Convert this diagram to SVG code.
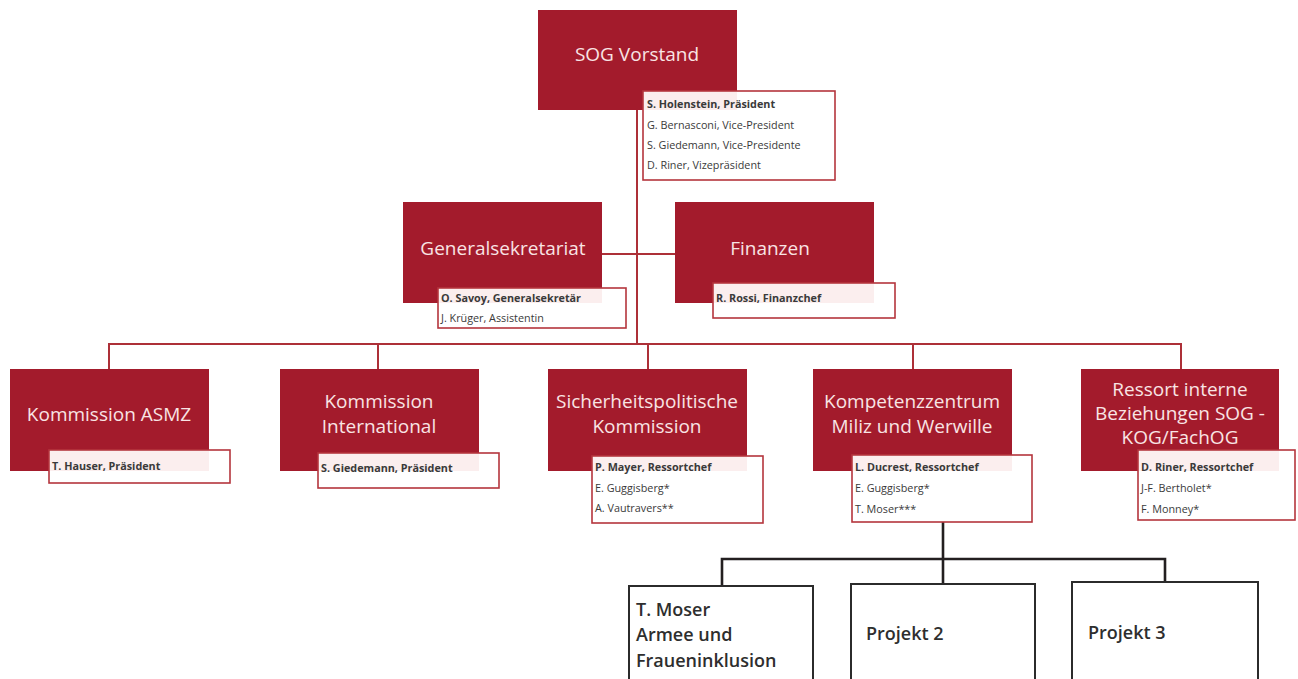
<svg xmlns="http://www.w3.org/2000/svg" width="1298" height="679" viewBox="0 0 1298 679">
<style>
.box{fill:#a31b2c;}
.ttl{font-family:"Open Sans","Noto Sans",sans-serif;font-size:19px;fill:#f9e4e4;text-anchor:middle;}
.info{fill:#fff;stroke:#b5353d;stroke-width:1.6;}
.band{fill:#fbeeee;}
.it{font-family:"Open Sans","Noto Sans",sans-serif;font-size:10.8px;fill:#3a3a3a;}
.b{font-weight:bold;}
.red{stroke:#ad3038;stroke-width:2;fill:none;}
.blk{stroke:#231f20;stroke-width:2.6;fill:none;}
.proj{fill:#fff;stroke:#2b2b2b;stroke-width:2;}
.pt{font-family:"Open Sans","Noto Sans",sans-serif;font-size:18px;font-weight:600;fill:#2e2e2e;}
</style>
<rect width="1298" height="679" fill="#fff"/>
<g id="connectors">
<path class="red" d="M637,110 V344"/>
<path class="red" d="M602,254 H675"/>
<path class="red" d="M109,370 V344 H1181 V370"/>
<path class="red" d="M378,344 V370"/>
<path class="red" d="M648,344 V370"/>
<path class="red" d="M913,344 V370"/>
<path class="blk" d="M943,522 V584"/>
<path class="blk" d="M722,586 V559 H1165 V582"/>
</g>
<g id="sog">
<rect class="box" x="538" y="10" width="199" height="100"/>
<text class="ttl" x="637" y="61">SOG Vorstand</text>
<rect class="info" x="643" y="91" width="192" height="89"/>
<rect class="band" x="644" y="92" width="93" height="18"/>
<text class="it b" x="647" y="108">S. Holenstein, Präsident</text>
<text class="it" x="647" y="129">G. Bernasconi, Vice-President</text>
<text class="it" x="647" y="149">S. Giedemann, Vice-Presidente</text>
<text class="it" x="647" y="169">D. Riner, Vizepräsident</text>
</g>
<g id="generalsekretariat">
<rect class="box" x="403" y="202" width="199" height="101"/>
<text class="ttl" x="503" y="255">Generalsekretariat</text>
<rect class="info" x="438" y="288" width="188" height="40"/>
<rect class="band" x="439" y="289" width="163" height="14"/>
<text class="it b" x="441" y="302">O. Savoy, Generalsekretär</text>
<text class="it" x="441" y="322">J. Krüger, Assistentin</text>
</g>
<g id="finanzen">
<rect class="box" x="675" y="202" width="199" height="101"/>
<text class="ttl" x="770" y="255">Finanzen</text>
<rect class="info" x="713" y="283" width="182" height="35"/>
<rect class="band" x="714" y="284" width="160" height="19"/>
<text class="it b" x="716" y="302">R. Rossi, Finanzchef</text>
</g>
<g id="asmz">
<rect class="box" x="10" y="369" width="199" height="102"/>
<text class="ttl" x="109" y="421">Kommission ASMZ</text>
<rect class="info" x="49" y="450" width="181" height="33"/>
<rect class="band" x="50" y="451" width="159" height="20"/>
<text class="it b" x="52" y="470">T. Hauser, Präsident</text>
</g>
<g id="international">
<rect class="box" x="280" y="369" width="199" height="102"/>
<text class="ttl" x="379" y="408">Kommission</text>
<text class="ttl" x="379" y="433">International</text>
<rect class="info" x="318" y="453" width="181" height="35"/>
<rect class="band" x="319" y="454" width="160" height="17"/>
<text class="it b" x="321" y="472">S. Giedemann, Präsident</text>
</g>
<g id="sicherheitspolitische">
<rect class="box" x="548" y="369" width="199" height="102"/>
<text class="ttl" x="647" y="408">Sicherheitspolitische</text>
<text class="ttl" x="647" y="433">Kommission</text>
<rect class="info" x="592" y="456" width="171" height="67"/>
<rect class="band" x="593" y="457" width="154" height="14"/>
<text class="it b" x="595" y="471">P. Mayer, Ressortchef</text>
<text class="it" x="595" y="492">E. Guggisberg*</text>
<text class="it" x="595" y="512">A. Vautravers**</text>
</g>
<g id="kompetenzzentrum">
<rect class="box" x="813" y="369" width="199" height="102"/>
<text class="ttl" x="912" y="408">Kompetenzzentrum</text>
<text class="ttl" x="912" y="433">Miliz und Werwille</text>
<rect class="info" x="852" y="455" width="180" height="67"/>
<rect class="band" x="853" y="456" width="159" height="15"/>
<text class="it b" x="855" y="471">L. Ducrest, Ressortchef</text>
<text class="it" x="855" y="492">E. Guggisberg*</text>
<text class="it" x="855" y="513">T. Moser***</text>
</g>
<g id="ressort">
<rect class="box" x="1081" y="369" width="198" height="102"/>
<text class="ttl" x="1180" y="396">Ressort interne</text>
<text class="ttl" x="1180" y="420">Beziehungen SOG -</text>
<text class="ttl" x="1180" y="444">KOG/FachOG</text>
<rect class="info" x="1138" y="450" width="157" height="70"/>
<rect class="band" x="1139" y="451" width="140" height="20"/>
<text class="it b" x="1141" y="471">D. Riner, Ressortchef</text>
<text class="it" x="1141" y="492">J-F. Bertholet*</text>
<text class="it" x="1141" y="513">F. Monney*</text>
</g>
<g id="projekt1">
<rect class="proj" x="629" y="586" width="184" height="110"/>
<text class="pt" x="636" y="616">T. Moser</text>
<text class="pt" x="636" y="641">Armee und</text>
<text class="pt" x="636" y="667">Fraueninklusion</text>
</g>
<g id="projekt2">
<rect class="proj" x="851" y="584" width="184" height="112"/>
<text class="pt" x="866" y="640">Projekt 2</text>
</g>
<g id="projekt3">
<rect class="proj" x="1072" y="582" width="186" height="114"/>
<text class="pt" x="1088" y="639">Projekt 3</text>
</g>
</svg>
